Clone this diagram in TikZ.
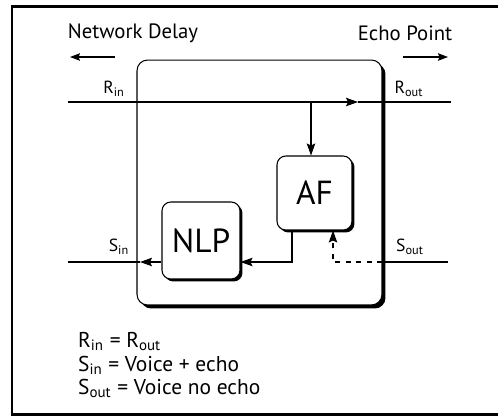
\documentclass[tikz,border=0pt]{standalone}
\usepackage{fontspec}
\setmainfont{PT Sans}
\usetikzlibrary{arrows.meta,shadows}

\begin{document}
\begin{tikzpicture}[
    x=0.02cm, y=-0.02cm,
    sig/.style={line width=0.6pt},
    tip/.style={-{Stealth[length=2.4mm, width=1.7mm, inset=0.4mm]}},
    block/.style={draw, line width=0.6pt, fill=white, rounded corners=5pt, inner sep=0pt, font=\fontsize{19}{19}\selectfont, drop shadow={shadow xshift=0.05cm, shadow yshift=-0.05cm, opacity=1, fill=black}},
    canceller/.style={draw, line width=0.6pt, fill=white, rounded corners=6pt, inner sep=0pt, minimum width=4.9cm, minimum height=4.9cm, drop shadow={shadow xshift=0.07cm, shadow yshift=-0.07cm, opacity=1, fill=black}},
    lbl/.style={font=\fontsize{10}{12}\selectfont},
    dirlbl/.style={font=\fontsize{11.8}{14}\selectfont},
    legend/.style={font=\fontsize{12.2}{14}\selectfont, anchor=base west},
]
    \useasboundingbox (0,0) rectangle (498,417);
    \clip (0,0) rectangle (498,417);

    % Frame
    \draw[line width=1.7pt] (12,6) rectangle (520,414);

    % Echo canceller
    \node[canceller] (ec) at (259.5,182.5) {};

    % Blocks
    \node[block, minimum width=1.5cm, minimum height=1.48cm] (af) at (314.5,193) {AF};
    \node[block, minimum width=1.56cm, minimum height=1.54cm] (nlp) at (201,240.5) {NLP};

    % Ends of the lines
    \coordinate (rin) at (68,102);
    \coordinate (rout) at (451,102);
    \coordinate (rarr) at (358,102);
    \coordinate (tap) at (311,102);
    \coordinate (sin) at (68,262);
    \coordinate (sarr) at (140,262);
    \coordinate (sout) at (448,262);
    \coordinate (afout) at (292,262);
    \coordinate (afin) at (333,262);

    % R path
    \draw[sig, tip] (rin) -- (rarr);
    \draw[sig] (rarr) -- (rout);
    \draw[sig, tip] (tap) -- (tap |- af.north);

    % S path
    \draw[sig] (ec.east |- sout) -- (sout);
    \draw[sig, dashed, tip] (ec.east |- sout) -- (afin) -- (afin |- af.south);
    \draw[sig, tip] (afout |- af.south) -- (afout) -- (nlp.east |- sout);
    \draw[sig, tip] (nlp.west |- sout) -- (sarr);
    \draw[sig] (sarr) -- (sin);

    % Labels
    \node[lbl] (rinlbl) at (114,89) {R\textsubscript{in}};
    \node[lbl] (routlbl) at (409,89) {R\textsubscript{out}};
    \node[lbl] (sinlbl) at (119,247) {S\textsubscript{in}};
    \node[lbl] (soutlbl) at (410,247) {S\textsubscript{out}};

    % Directions
    \node[dirlbl] (delay) at (133,33) {Network Delay};
    \node[dirlbl] (echo) at (405,33) {Echo Point};
    \coordinate (dl1) at (115,57);
    \coordinate (dl2) at (70,57);
    \coordinate (ep1) at (403,57);
    \coordinate (ep2) at (448,57);
    \draw[sig, -{Stealth[length=2mm, width=1.5mm, inset=0.3mm]}] (dl1) -- (dl2);
    \draw[sig, -{Stealth[length=2mm, width=1.5mm, inset=0.3mm]}] (ep1) -- (ep2);

    % Legend
    \node[legend] (leg1) at (72,347) {R\textsubscript{in} = R\textsubscript{out}};
    \node[legend] (leg2) at (72,371) {S\textsubscript{in} = Voice + echo};
    \node[legend] (leg3) at (72,394) {S\textsubscript{out} = Voice no echo};
\end{tikzpicture}
\end{document}
